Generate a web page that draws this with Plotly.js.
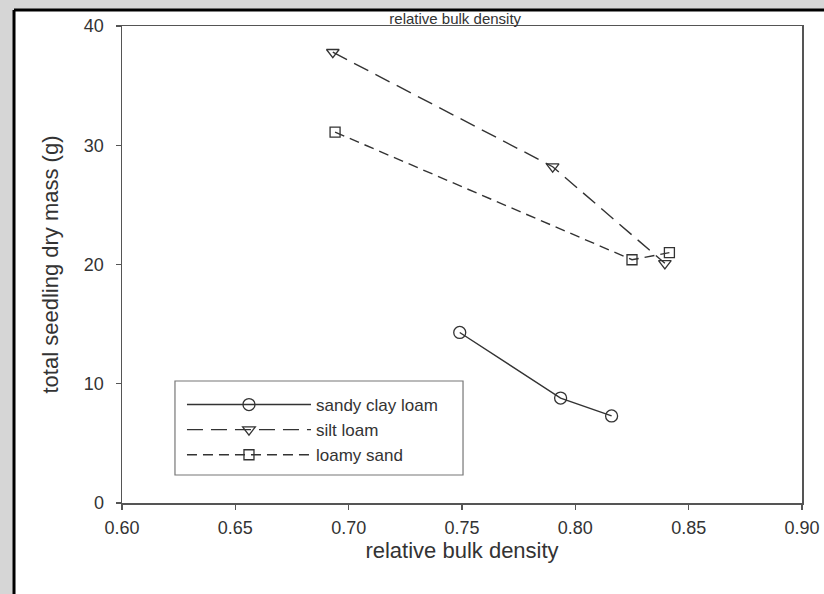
<!DOCTYPE html>
<html>
<head>
<meta charset="utf-8">
<script src="https://cdn.plot.ly/plotly-3.0.1.min.js"></script>
<style>html,body{margin:0;padding:0;background:#d6d6d6;}#chart{width:824px;height:594px;}</style>
</head>
<body>
<div id="chart"></div>
<script>
// Data
const seriesNames = ["sandy clay loam", "silt loam", "loamy sand"];
const sandyClayLoamX = [0.749, 0.7935, 0.816];
const sandyClayLoamY = [14.3, 8.8, 7.3];
const siltLoamX = [0.693, 0.790, 0.8395];
const siltLoamY = [37.8, 28.2, 20.1];
const loamySandX = [0.694, 0.825, 0.8415];
const loamySandY = [31.1, 20.4, 21.0];
const xTickVals = [0.60, 0.65, 0.70, 0.75, 0.80, 0.85, 0.90];
const yTickVals = [0, 10, 20, 30, 40];
const xTitle = "relative bulk density";
const yTitle = "total seedling dry mass (g)";

const FONT = "Arial, 'Liberation Sans', sans-serif";
const INK = "#333333";

const traces = [
  {
    x: sandyClayLoamX, y: sandyClayLoamY, name: seriesNames[0],
    mode: "lines+markers", type: "scatter",
    line: {color: INK, width: 1.4, dash: "solid"},
    marker: {symbol: "circle-open", size: 12, color: INK, line: {width: 1.3, color: INK}}
  },
  {
    x: siltLoamX, y: siltLoamY, name: seriesNames[1],
    mode: "lines+markers", type: "scatter",
    line: {color: INK, width: 1.4, dash: "16px,8px"},
    marker: {symbol: "triangle-down-open", size: 11, color: INK, line: {width: 1.3, color: INK}}
  },
  {
    x: loamySandX, y: loamySandY, name: seriesNames[2],
    mode: "lines+markers", type: "scatter",
    line: {color: INK, width: 1.4, dash: "10px,6px"},
    marker: {symbol: "square-open", size: 10, color: INK, line: {width: 1.3, color: INK}}
  }
];

const layout = {
  width: 824, height: 594,
  margin: {l: 122, r: 22, t: 26, b: 91},
  paper_bgcolor: "#d6d6d6",
  plot_bgcolor: "#ffffff",
  font: {family: FONT, color: INK, size: 13},
  title: {
    text: xTitle, font: {family: FONT, size: 15, color: INK},
    xref: "paper", x: 0.49, xanchor: "center",
    yref: "container", y: 0.969, yanchor: "middle"
  },
  showlegend: true,
  legend: {
    x: 0.0882, y: 0.2432, xanchor: "left", yanchor: "top",
    bgcolor: "rgba(0,0,0,0)", borderwidth: 0,
    font: {family: FONT, size: 17, color: INK},
    itemwidth: 124, tracegroupgap: 0
  },
  xaxis: {
    range: [0.60, 0.90], tickvals: xTickVals, tickformat: ".2f",
    ticks: "outside", ticklen: 5, tickwidth: 1.2, tickcolor: "#555",
    showline: true, linecolor: "#555", linewidth: 1.5, mirror: true,
    showgrid: false, zeroline: false,
    ticklabelstandoff: 3,
    tickfont: {family: FONT, size: 18, color: INK},
    title: {text: xTitle, font: {family: FONT, size: 22, color: INK}, standoff: 0}
  },
  yaxis: {
    range: [0, 40], tickvals: yTickVals,
    ticks: "outside", ticklen: 5, tickwidth: 1.2, tickcolor: "#555",
    showline: true, linecolor: "#555", linewidth: 1.5, mirror: true,
    showgrid: false, zeroline: false,
    ticklabelstandoff: 8,
    tickfont: {family: FONT, size: 18, color: INK},
    title: {text: yTitle, font: {family: FONT, size: 22, color: INK}, standoff: 19}
  },
  shapes: [
    // white page of the figure
    {type: "rect", xref: "paper", yref: "paper", layer: "below",
     x0: -0.1588, x1: 1.2, y0: -0.3, y1: 1.0335,
     fillcolor: "#ffffff", line: {width: 0}},
    // legend frame
    {type: "rect", xref: "paper", yref: "paper", layer: "above",
     x0: 0.0779, x1: 0.5015, y0: 0.0587, y1: 0.2558,
     fillcolor: "rgba(0,0,0,0)", line: {color: "#777777", width: 1.2}},
    // black border top and left
    {type: "line", xref: "paper", yref: "paper", layer: "above",
     x0: -0.1588, x1: 1.2, y0: 1.0335, y1: 1.0335,
     line: {color: "#000000", width: 3}},
    {type: "line", xref: "paper", yref: "paper", layer: "above",
     x0: -0.1588, x1: -0.1588, y0: -0.3, y1: 1.0335,
     line: {color: "#000000", width: 3}}
  ]
};

Plotly.newPlot("chart", traces, layout, {displayModeBar: false, staticPlot: true});
</script>
</body>
</html>
